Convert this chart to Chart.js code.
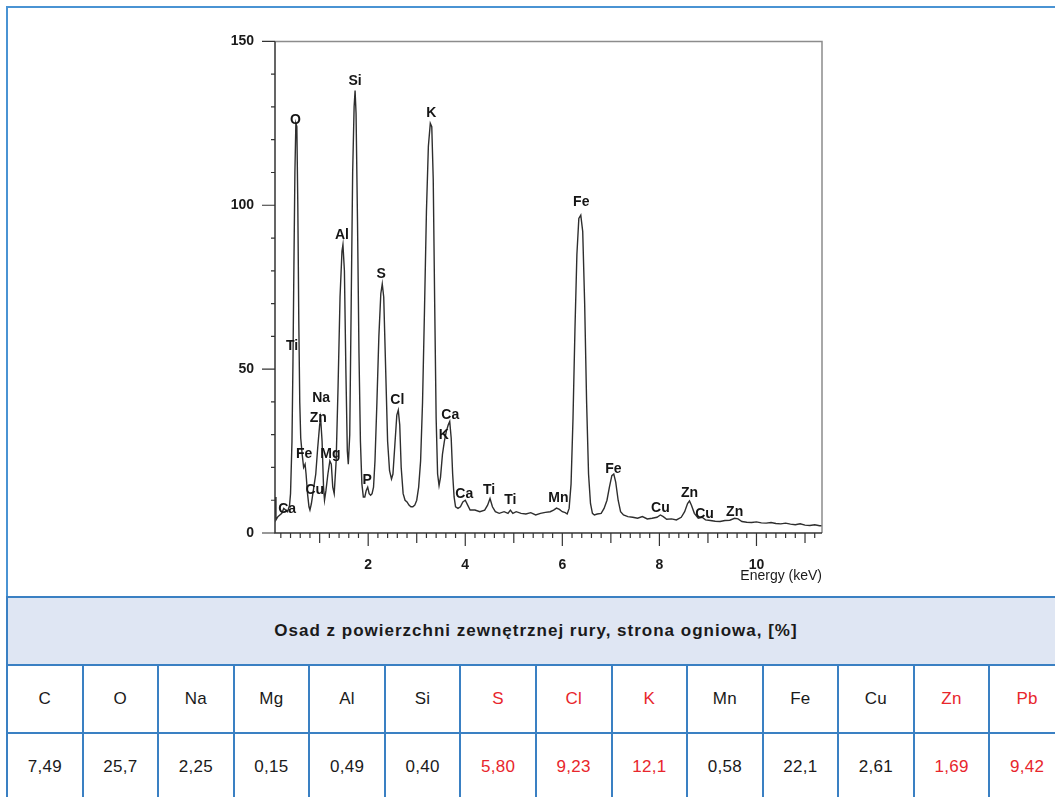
<!DOCTYPE html>
<html>
<head>
<meta charset="utf-8">
<script src="https://cdn.jsdelivr.net/npm/chart.js@4"></script>
<style>
  html, body { margin: 0; padding: 0; background: #fff; overflow: hidden; }
  body { width: 1055px; height: 797px; position: relative; font-family: "Liberation Sans", Arial, sans-serif; }
  #frame { position: absolute; left: 6px; top: 6px; width: 1100px; height: 591px;
    border-top: 2px solid #4a93d3; border-left: 2px solid #4a93d3; }
  #spectrum { position: absolute; left: 200px; top: 20px; }
  #results { position: absolute; left: 6px; top: 596px; border-collapse: collapse; table-layout: fixed; width: 1060px; }
  #results td { border: 2px solid #3a80c3; text-align: center; padding: 0; font-size: 17px; color: #1a1a1a; letter-spacing: 0.3px; }
  #results tr { height: 68px; }
  #results td.head { background: #dfe6f3; font-weight: bold; letter-spacing: 1px; }
  #results td.hot { color: #e8262c; }
</style>
</head>
<body>
<div id="frame"></div>
<canvas id="spectrum" width="660" height="570"></canvas>
<table id="results"></table>

<script>
// spectrum: energy (keV) and counts
const energyKeV = [
  0.08, 0.10, 0.14, 0.18, 0.22, 0.26, 0.30, 0.34, 0.38, 0.40,
  0.43, 0.45, 0.47, 0.49, 0.51, 0.53, 0.55, 0.57, 0.59, 0.61,
  0.64, 0.67, 0.70, 0.72, 0.75, 0.78, 0.80, 0.83, 0.86, 0.88,
  0.92, 0.96, 1.00, 1.02, 1.05, 1.08, 1.10, 1.13, 1.17, 1.21,
  1.24, 1.27, 1.30, 1.34, 1.38, 1.42, 1.46, 1.48, 1.51, 1.54,
  1.57, 1.59, 1.62, 1.65, 1.68, 1.71, 1.73, 1.75, 1.78, 1.81,
  1.84, 1.87, 1.90, 1.93, 1.96, 1.99, 2.02, 2.05, 2.08, 2.11,
  2.14, 2.18, 2.22, 2.26, 2.29, 2.32, 2.36, 2.40, 2.44, 2.48,
  2.51, 2.55, 2.59, 2.62, 2.65, 2.68, 2.72, 2.76, 2.80, 2.84,
  2.88, 2.92, 2.96, 3.00, 3.04, 3.08, 3.12, 3.16, 3.20, 3.24,
  3.28, 3.31, 3.34, 3.37, 3.40, 3.43, 3.46, 3.49, 3.53, 3.57,
  3.61, 3.65, 3.68, 3.71, 3.74, 3.77, 3.80, 3.85, 3.90, 3.95,
  4.00, 4.05, 4.10, 4.20, 4.30, 4.40, 4.46, 4.51, 4.56, 4.62,
  4.70, 4.80, 4.88, 4.93, 4.98, 5.05, 5.15, 5.25, 5.35, 5.45,
  5.55, 5.65, 5.75, 5.82, 5.88, 5.94, 6.00, 6.06, 6.10, 6.14,
  6.18, 6.22, 6.26, 6.30, 6.34, 6.38, 6.42, 6.46, 6.50, 6.54,
  6.58, 6.62, 6.66, 6.72, 6.80, 6.86, 6.92, 6.97, 7.02, 7.06,
  7.10, 7.15, 7.20, 7.26, 7.35, 7.45, 7.55, 7.65, 7.75, 7.85,
  7.95, 8.02, 8.08, 8.15, 8.25, 8.35, 8.45, 8.52, 8.58, 8.62,
  8.66, 8.72, 8.80, 8.88, 8.95, 9.05, 9.15, 9.25, 9.35, 9.45,
  9.55, 9.62, 9.70, 9.80, 9.90, 10.0, 10.1, 10.2, 10.3, 10.4,
  10.5, 10.6, 10.7, 10.8, 10.9, 11.0, 11.1, 11.2, 11.3, 11.35
];
const counts = [
  11, 4, 5, 5.5, 6, 7.5, 7, 6.5, 8.5, 12,
  28, 52, 82, 110, 125, 124, 100, 65, 40, 29,
  24, 20, 21, 18, 12, 8, 7, 9, 12, 14,
  18, 26, 33, 35, 28, 14, 10, 13, 18, 22,
  21, 14, 12, 22, 45, 72, 86, 88, 80, 50,
  25, 21, 30, 70, 110, 130, 135, 128, 95, 55,
  28, 15, 11, 11, 13, 14, 12, 11.5, 12, 14,
  22, 40, 60, 73, 76, 72, 50, 28, 19, 16.5,
  18, 27, 36, 37.5, 33, 20, 12, 10, 9.5, 8.5,
  8, 8, 8.5, 10, 14, 22, 40, 68, 98, 118,
  125, 124, 108, 70, 35, 18, 14.5, 17, 24, 28,
  31, 33, 34, 29, 18, 11, 8, 7.5, 8, 9.5,
  10, 8.5, 7, 7, 6.5, 7, 8.5, 10.5, 8, 6.5,
  6, 6.5, 6, 7, 6, 6.5, 6, 5.8, 6.2, 5.5,
  6, 6.3, 6.5, 7, 7.6, 7.2, 6.5, 6.2, 5.8, 7.5,
  15, 35, 62, 85, 96, 97, 92, 70, 40, 18,
  9, 6, 5.5, 5.8, 6, 7.5, 10, 14, 17.5, 18,
  15.5, 10, 6.5, 5.5, 5, 4.8, 4.5, 5, 4.3, 4.5,
  4.8, 5.5, 5, 4.2, 4.3, 4, 4.8, 6.5, 9, 9.8,
  8.5, 6, 4.5, 4.8, 4, 3.8, 3.6, 3.5, 3.8, 3.9,
  4.5, 4.3, 3.5, 3.3, 3.2, 3.4, 3.1, 3.0, 3.2, 2.9,
  2.8, 3, 2.7, 2.5, 2.8, 2.4, 2.3, 2.5, 2.2, 2.2
];

// peak annotations: element, energy, count level of the text
const peakNames  = ['Ca', 'O', 'Ti', 'Fe', 'Cu', 'Na', 'Zn', 'Mg', 'Al', 'Si', 'P', 'S', 'Cl',
                    'K', 'Ca', 'K', 'Ca', 'Ti', 'Ti', 'Mn', 'Fe', 'Fe', 'Cu', 'Zn', 'Cu', 'Zn'];
const peakEnergy = [0.33, 0.50, 0.43, 0.68, 0.90, 1.03, 0.97, 1.22, 1.46, 1.73, 1.98, 2.27, 2.60,
                    3.30, 3.69, 3.56, 3.98, 4.49, 4.93, 5.92, 6.39, 7.05, 8.02, 8.62, 8.93, 9.55];
const peakLevel  = [7.3, 126, 57, 24, 13, 41, 35, 24, 91, 138, 16, 79, 40.5,
                    128, 36, 30, 12, 13, 10, 10.7, 101, 19.5, 7.6, 12.2, 5.8, 6.4];

// axis ticks
const yTicks = [0, 50, 100, 150];
const xTicks = [2, 4, 6, 8, 10];

// composition table
const tableTitle = 'Osad z powierzchni zewnętrznej rury, strona ogniowa, [%]';
const elementNames = ['C', 'O', 'Na', 'Mg', 'Al', 'Si', 'S', 'Cl', 'K', 'Mn', 'Fe', 'Cu', 'Zn', 'Pb'];
const percentValues = ['7,49', '25,7', '2,25', '0,15', '0,49', '0,40', '5,80', '9,23', '12,1', '0,58', '22,1', '2,61', '1,69', '9,42'];
const flagged = ['S', 'Cl', 'K', 'Zn', 'Pb'];

// build table
const table = document.getElementById('results');
const colgroup = document.createElement('colgroup');
elementNames.forEach(() => colgroup.appendChild(document.createElement('col')));
table.appendChild(colgroup);
let tr = table.insertRow();
let td = tr.insertCell();
td.colSpan = elementNames.length;
td.className = 'head';
td.textContent = tableTitle;
[elementNames, percentValues].forEach(row => {
  tr = table.insertRow();
  row.forEach((txt, i) => {
    const c = tr.insertCell();
    c.textContent = txt;
    if (flagged.includes(elementNames[i])) c.className = 'hot';
  });
});

// frame, ticks and peak labels
const decorPlugin = {
  id: 'decor',
  afterDatasetsDraw(chart) {
    const {ctx, chartArea: a, scales: {x, y}} = chart;
    ctx.save();
    // top/right frame
    ctx.strokeStyle = '#8c8c8c';
    ctx.lineWidth = 1.5;
    ctx.beginPath();
    ctx.moveTo(a.left, a.top); ctx.lineTo(a.right, a.top); ctx.lineTo(a.right, a.bottom);
    ctx.stroke();
    // axes
    ctx.strokeStyle = '#333';
    ctx.beginPath();
    ctx.moveTo(a.left, a.top); ctx.lineTo(a.left, a.bottom); ctx.lineTo(a.right, a.bottom);
    ctx.stroke();
    ctx.lineWidth = 1.2;
    ctx.beginPath();
    for (let v = 0; v <= 150; v += 10) {
      const py = y.getPixelForValue(v);
      const len = yTicks.includes(v) ? 13 : 4;
      ctx.moveTo(a.left - len, py); ctx.lineTo(a.left, py);
    }
    for (let k = 1; k <= 56; k++) {
      const e = k / 5;
      const px = x.getPixelForValue(e);
      let len = 5;
      if (k % 5 === 0) len = xTicks.includes(e) ? 13 : 10;
      ctx.moveTo(px, a.bottom); ctx.lineTo(px, a.bottom + len);
    }
    ctx.stroke();
    // peak labels
    ctx.fillStyle = '#151515';
    ctx.font = 'bold 14px "Liberation Sans", Arial, sans-serif';
    ctx.textAlign = 'center';
    ctx.textBaseline = 'middle';
    peakNames.forEach((n, i) => {
      ctx.fillText(n, x.getPixelForValue(peakEnergy[i]), y.getPixelForValue(peakLevel[i]));
    });
    ctx.restore();
  }
};

const tickFont = { family: '"Liberation Sans", Arial, sans-serif', size: 14, weight: 'bold' };

const spectrumChart = new Chart(document.getElementById('spectrum'), {
  type: 'line',
  data: {
    datasets: [{
      data: energyKeV.map((e, i) => ({ x: e, y: counts[i] })),
      borderColor: '#2e2e2e',
      borderWidth: 1.4,
      pointRadius: 0,
      tension: 0,
      fill: false
    }]
  },
  options: {
    responsive: false,
    animation: false,
    devicePixelRatio: 1,
    layout: { padding: { top: 21, right: 38, left: 0, bottom: 0 } },
    plugins: { legend: { display: false }, tooltip: { enabled: false } },
    scales: {
      x: {
        type: 'linear',
        min: 0.08,
        max: 11.35,
        grid: { display: false },
        border: { display: false },
        ticks: {
          stepSize: 2,
          includeBounds: false,
          padding: 16,
          color: '#1a1a1a',
          font: tickFont,
          maxRotation: 0,
          callback: v => xTicks.includes(v) ? String(v) : ''
        },
        title: {
          display: true,
          text: 'Energy (keV)',
          align: 'end',
          color: '#1a1a1a',
          font: { family: '"Liberation Sans", Arial, sans-serif', size: 14 },
          padding: { top: 0, bottom: 5 }
        },
        afterFit: s => { s.height = 57; }
      },
      y: {
        min: 0,
        max: 150,
        grid: { display: false },
        border: { display: false },
        ticks: {
          stepSize: 50,
          padding: 13,
          color: '#1a1a1a',
          font: tickFont,
          callback: v => yTicks.includes(v) ? String(v) : ''
        },
        afterFit: s => { s.width = 75; }
      }
    }
  },
  plugins: [decorPlugin]
});
</script>
</body>
</html>
